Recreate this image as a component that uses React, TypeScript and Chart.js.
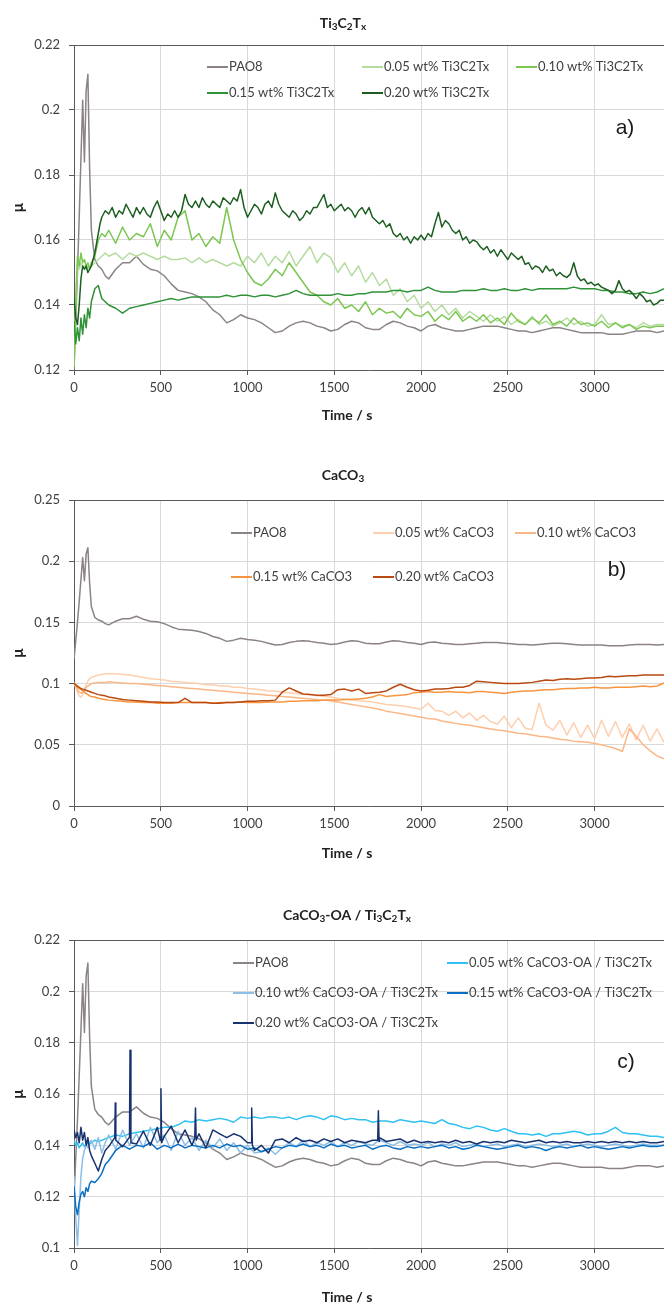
import React, { useEffect, useRef } from 'react';
import { Chart, registerables } from 'chart.js';
Chart.register(...registerables);

// ---------- shared time grid (s) ----------
const TIME = [
  0, 10, 20, 30, 40, 50, 60, 70, 80, 90,
  100, 120, 140, 160, 180, 200, 240, 280, 320, 360,
  400, 440, 480, 520, 560, 600, 640, 680, 720, 760,
  800, 840, 880, 920, 960, 1000, 1040, 1080, 1120, 1160,
  1200, 1240, 1280, 1320, 1360, 1400, 1440, 1480, 1520, 1560,
  1600, 1640, 1680, 1720, 1760, 1800, 1840, 1880, 1920, 1960,
  2000, 2040, 2080, 2120, 2160, 2200, 2240, 2280, 2320, 2360,
  2400, 2440, 2480, 2520, 2560, 2600, 2640, 2680, 2720, 2760,
  2800, 2840, 2880, 2920, 2960, 3000, 3040, 3080, 3120, 3160,
  3200, 3240, 3280, 3320, 3360, 3400,
];

// finer time grid used by the noisiest trace (0.20 wt% Ti3C2Tx)
const TIME_FINE = [
  0, 10, 20, 30, 40, 50, 60, 70, 80, 90, 100, 110, 120, 130, 140, 150, 160, 170, 180,
  200, 220, 240, 260, 280, 300, 320, 340, 360, 380,
  400, 420, 440, 460, 480, 500, 520, 540, 560, 580,
  600, 620, 640, 660, 680, 700, 720, 740, 760, 780,
  800, 820, 840, 860, 880, 900, 920, 940, 960, 980,
  1000, 1020, 1040, 1060, 1080, 1100, 1120, 1140, 1160, 1180,
  1200, 1220, 1240, 1260, 1280, 1300, 1320, 1340, 1360, 1380,
  1400, 1420, 1440, 1460, 1480, 1500, 1520, 1540, 1560, 1580,
  1600, 1620, 1640, 1660, 1680, 1700, 1720, 1740, 1760, 1780,
  1800, 1820, 1840, 1860, 1880, 1900, 1920, 1940, 1960, 1980,
  2000, 2020, 2040, 2060, 2080, 2100, 2120, 2140, 2160, 2180,
  2200, 2220, 2240, 2260, 2280, 2300, 2320, 2340, 2360, 2380,
  2400, 2420, 2440, 2460, 2480, 2500, 2520, 2540, 2560, 2580,
  2600, 2620, 2640, 2660, 2680, 2700, 2720, 2740, 2760, 2780,
  2800, 2820, 2840, 2860, 2880, 2900, 2920, 2940, 2960, 2980,
  3000, 3020, 3040, 3060, 3080, 3100, 3120, 3140, 3160, 3180,
  3200, 3220, 3240, 3260, 3280, 3300, 3320, 3340, 3360, 3380,
  3400,
];

const PAO8 = [
  0.120, 0.135, 0.150, 0.167, 0.185, 0.203, 0.184, 0.206, 0.211, 0.182,
  0.163, 0.154, 0.152, 0.151, 0.149, 0.148, 0.151, 0.153, 0.153, 0.155,
  0.1525, 0.151, 0.1505, 0.149, 0.1465, 0.1445, 0.144, 0.1435, 0.1425, 0.141,
  0.1385, 0.137, 0.1345, 0.1355, 0.137, 0.136, 0.1355, 0.1345, 0.133, 0.1315,
  0.132, 0.1335, 0.1345, 0.135, 0.1345, 0.1335, 0.133, 0.132, 0.1325, 0.134,
  0.135, 0.1345, 0.133, 0.1325, 0.1325, 0.134, 0.135, 0.1345, 0.1335, 0.133,
  0.132, 0.1335, 0.134, 0.133, 0.1325, 0.132, 0.132, 0.1325, 0.133, 0.1335,
  0.1335, 0.1335, 0.133, 0.1325, 0.132, 0.132, 0.1315, 0.132, 0.1325, 0.133,
  0.133, 0.1325, 0.132, 0.1315, 0.1315, 0.1315, 0.1315, 0.131, 0.131, 0.131,
  0.1315, 0.132, 0.132, 0.132, 0.1315, 0.132,
];

// ---------- Ti3C2Tx ----------
const TI_005 = [
  0.121, 0.140, 0.152, 0.151, 0.153, 0.152, 0.152, 0.151, 0.152, 0.151,
  0.152, 0.153, 0.154, 0.155, 0.156, 0.155, 0.156, 0.154, 0.156, 0.155,
  0.156, 0.155, 0.154, 0.155, 0.154, 0.154, 0.1545, 0.153, 0.1545, 0.153,
  0.154, 0.153, 0.152, 0.153, 0.152, 0.155, 0.153, 0.156, 0.152, 0.155,
  0.153, 0.1565, 0.152, 0.155, 0.158, 0.153, 0.156, 0.1545, 0.150, 0.153,
  0.149, 0.152, 0.147, 0.150, 0.146, 0.148, 0.143, 0.145, 0.141, 0.143,
  0.139, 0.141, 0.138, 0.140, 0.137, 0.139, 0.136, 0.138, 0.1365, 0.135,
  0.137, 0.135, 0.1365, 0.134, 0.1355, 0.134, 0.1365, 0.134, 0.135, 0.1335,
  0.1345, 0.136, 0.134, 0.135, 0.1335, 0.134, 0.137, 0.134, 0.1345, 0.1335,
  0.134, 0.133, 0.1345, 0.1335, 0.134, 0.134,
];
const TI_010 = [
  0.121, 0.142, 0.155, 0.152, 0.156, 0.153, 0.154, 0.152, 0.153, 0.151,
  0.153, 0.155, 0.160, 0.162, 0.161, 0.163, 0.159, 0.164, 0.160, 0.162,
  0.161, 0.165, 0.158, 0.163, 0.160, 0.167, 0.169, 0.160, 0.162, 0.158,
  0.161, 0.159, 0.170, 0.160, 0.154, 0.150, 0.147, 0.146, 0.148, 0.151,
  0.149, 0.153, 0.150, 0.147, 0.144, 0.143, 0.141, 0.140, 0.142, 0.139,
  0.140, 0.138, 0.141, 0.137, 0.139, 0.1375, 0.138, 0.136, 0.139, 0.137,
  0.1365, 0.138, 0.135, 0.137, 0.1355, 0.138, 0.135, 0.1365, 0.135, 0.137,
  0.1345, 0.136, 0.134, 0.1375, 0.135, 0.134, 0.136, 0.1345, 0.137, 0.134,
  0.135, 0.1335, 0.136, 0.134, 0.1345, 0.1335, 0.135, 0.133, 0.1345, 0.133,
  0.134, 0.1325, 0.1335, 0.133, 0.1335, 0.1335,
];
const TI_015 = [
  0.135, 0.128, 0.133, 0.129, 0.136, 0.131, 0.137, 0.133, 0.139, 0.136,
  0.141, 0.145, 0.146, 0.142, 0.141, 0.140, 0.139, 0.1375, 0.139, 0.1395,
  0.140, 0.1405, 0.141, 0.1415, 0.142, 0.1415, 0.142, 0.1425, 0.1425, 0.1425,
  0.1425, 0.1425, 0.143, 0.1425, 0.143, 0.143, 0.1425, 0.143, 0.143, 0.1425,
  0.143, 0.1435, 0.1445, 0.1435, 0.143, 0.143, 0.143, 0.143, 0.1435, 0.143,
  0.143, 0.1435, 0.1435, 0.144, 0.144, 0.144, 0.1445, 0.1445, 0.144, 0.1445,
  0.1445, 0.1455, 0.1445, 0.144, 0.144, 0.144, 0.1445, 0.1445, 0.1445, 0.145,
  0.1445, 0.1445, 0.145, 0.1445, 0.1445, 0.145, 0.1445, 0.145, 0.145, 0.145,
  0.145, 0.145, 0.1455, 0.145, 0.145, 0.145, 0.1445, 0.1445, 0.144, 0.144,
  0.1435, 0.1435, 0.144, 0.1435, 0.144, 0.145,
];
// on TIME_FINE
const TI_020 = [
  0.142, 0.136, 0.134, 0.140, 0.148, 0.152, 0.151, 0.152, 0.150, 0.151,
  0.152, 0.154, 0.156, 0.159, 0.162, 0.165, 0.167, 0.168, 0.169,
  0.168, 0.170, 0.167, 0.169, 0.168, 0.171, 0.169, 0.167, 0.170, 0.168,
  0.170, 0.168, 0.167, 0.170, 0.172, 0.169, 0.166, 0.168, 0.167, 0.169,
  0.167, 0.169, 0.174, 0.171, 0.170, 0.172, 0.170, 0.173, 0.171, 0.170,
  0.172, 0.171, 0.170, 0.173, 0.172, 0.171, 0.173, 0.172, 0.1755, 0.170,
  0.167, 0.169, 0.171, 0.170, 0.168, 0.171, 0.172, 0.170, 0.1745, 0.171,
  0.169, 0.168, 0.167, 0.169, 0.168, 0.166, 0.167, 0.169, 0.168, 0.170,
  0.170, 0.172, 0.174, 0.170, 0.171, 0.169, 0.170, 0.171, 0.169, 0.170,
  0.169, 0.167, 0.169, 0.170, 0.168, 0.170, 0.167, 0.166, 0.165, 0.166,
  0.164, 0.165, 0.162, 0.161, 0.162, 0.160, 0.161, 0.159, 0.161, 0.160,
  0.1615, 0.160, 0.162, 0.161, 0.165, 0.1685, 0.164, 0.166, 0.165, 0.163,
  0.162, 0.163, 0.160, 0.161, 0.159, 0.160, 0.1595, 0.158, 0.157, 0.158,
  0.156, 0.157, 0.155, 0.157, 0.1555, 0.154, 0.156, 0.155, 0.154, 0.155,
  0.1525, 0.153, 0.151, 0.152, 0.1515, 0.150, 0.152, 0.1505, 0.151, 0.149,
  0.150, 0.149, 0.1485, 0.1495, 0.153, 0.149, 0.1475, 0.148, 0.1465, 0.147,
  0.146, 0.1465, 0.1455, 0.145, 0.1445, 0.1435, 0.1445, 0.1475, 0.145, 0.144,
  0.1445, 0.1435, 0.142, 0.1435, 0.1425, 0.141, 0.1415, 0.140, 0.1405, 0.1415,
  0.1415,
];

// ---------- CaCO3 ----------
const CA_005 = [
  0.100, 0.097, 0.093, 0.090, 0.089, 0.091, 0.095, 0.099, 0.102, 0.104,
  0.105, 0.106, 0.107, 0.1075, 0.108, 0.108, 0.108, 0.1075, 0.107, 0.106,
  0.105, 0.104, 0.1035, 0.103, 0.102, 0.1015, 0.101, 0.1005, 0.100, 0.099,
  0.099, 0.098, 0.098, 0.097, 0.097, 0.096, 0.0955, 0.095, 0.094, 0.094,
  0.093, 0.0925, 0.092, 0.091, 0.091, 0.090, 0.0895, 0.089, 0.088, 0.0875,
  0.087, 0.086, 0.0855, 0.085, 0.084, 0.083, 0.0825, 0.082, 0.081, 0.080,
  0.079, 0.084, 0.078, 0.0775, 0.074, 0.0775, 0.072, 0.076, 0.070, 0.074,
  0.069, 0.067, 0.0735, 0.064, 0.072, 0.0635, 0.0625, 0.084, 0.066, 0.062,
  0.070, 0.058, 0.068, 0.056, 0.066, 0.055, 0.070, 0.057, 0.069, 0.056,
  0.067, 0.054, 0.066, 0.053, 0.063, 0.052,
];
const CA_010 = [
  0.100, 0.098, 0.095, 0.093, 0.092, 0.093, 0.095, 0.097, 0.098, 0.099,
  0.100, 0.1005, 0.101, 0.101, 0.101, 0.1015, 0.101, 0.1005, 0.100, 0.100,
  0.0995, 0.099, 0.0985, 0.098, 0.0975, 0.097, 0.0965, 0.096, 0.0955, 0.095,
  0.0945, 0.094, 0.0935, 0.093, 0.0925, 0.092, 0.0915, 0.091, 0.0905, 0.090,
  0.0895, 0.089, 0.0885, 0.088, 0.0875, 0.087, 0.0865, 0.086, 0.085, 0.084,
  0.083, 0.082, 0.081, 0.080, 0.079, 0.0775, 0.0765, 0.0755, 0.0745, 0.0735,
  0.0725, 0.0715, 0.071, 0.0695, 0.0685, 0.0675, 0.0665, 0.066, 0.065, 0.064,
  0.063, 0.062, 0.0615, 0.0605, 0.0595, 0.059, 0.058, 0.057, 0.0565, 0.0555,
  0.0545, 0.054, 0.053, 0.0525, 0.052, 0.051, 0.050, 0.0485, 0.047, 0.0445,
  0.063, 0.057, 0.050, 0.045, 0.041, 0.0385,
];
const CA_015 = [
  0.101, 0.099, 0.097, 0.096, 0.095, 0.094, 0.093, 0.092, 0.091, 0.090,
  0.0895, 0.089, 0.088, 0.0875, 0.087, 0.0865, 0.086, 0.0855, 0.085, 0.085,
  0.0845, 0.0845, 0.084, 0.084, 0.084, 0.0845, 0.0845, 0.0845, 0.0845, 0.0845,
  0.084, 0.0845, 0.0845, 0.0845, 0.085, 0.0845, 0.0845, 0.0845, 0.085, 0.085,
  0.085, 0.0855, 0.0855, 0.086, 0.086, 0.086, 0.0865, 0.0865, 0.0865, 0.087,
  0.087, 0.0875, 0.088, 0.089, 0.091, 0.0895, 0.090, 0.0905, 0.091, 0.0925,
  0.093, 0.0935, 0.093, 0.093, 0.0935, 0.093, 0.093, 0.0925, 0.0935, 0.0935,
  0.093, 0.0925, 0.092, 0.093, 0.0935, 0.094, 0.094, 0.0945, 0.095, 0.095,
  0.0955, 0.096, 0.096, 0.0965, 0.0965, 0.097, 0.0965, 0.0965, 0.097, 0.097,
  0.097, 0.0975, 0.098, 0.0975, 0.098, 0.1005,
];
const CA_020 = [
  0.100, 0.099, 0.098, 0.097, 0.096, 0.0955, 0.095, 0.0945, 0.094, 0.0935,
  0.093, 0.092, 0.091, 0.0905, 0.090, 0.089, 0.088, 0.087, 0.0865, 0.086,
  0.0855, 0.085, 0.085, 0.0845, 0.0845, 0.0845, 0.088, 0.0845, 0.0845, 0.0845,
  0.084, 0.084, 0.0845, 0.0845, 0.085, 0.0855, 0.0855, 0.086, 0.086, 0.0865,
  0.093, 0.0965, 0.094, 0.0915, 0.091, 0.0905, 0.0905, 0.091, 0.095, 0.0955,
  0.094, 0.0955, 0.092, 0.0925, 0.093, 0.094, 0.097, 0.0995, 0.097, 0.095,
  0.094, 0.0945, 0.0955, 0.0955, 0.096, 0.097, 0.097, 0.0985, 0.102, 0.1015,
  0.101, 0.1005, 0.100, 0.100, 0.100, 0.1005, 0.101, 0.102, 0.103, 0.1025,
  0.1035, 0.104, 0.1035, 0.104, 0.1045, 0.1045, 0.105, 0.106, 0.1055, 0.106,
  0.1065, 0.1065, 0.107, 0.107, 0.107, 0.107,
];

// ---------- CaCO3-OA / Ti3C2Tx ----------
const OA_005 = [
  0.142, 0.140, 0.141, 0.139, 0.140, 0.141, 0.1395, 0.140, 0.141, 0.1405,
  0.141, 0.142, 0.1415, 0.142, 0.1425, 0.143, 0.144, 0.1435, 0.1445, 0.145,
  0.1455, 0.146, 0.1465, 0.147, 0.147, 0.148, 0.1495, 0.149, 0.150, 0.1495,
  0.150, 0.1505, 0.150, 0.149, 0.151, 0.1505, 0.151, 0.1505, 0.151, 0.151,
  0.1505, 0.151, 0.150, 0.151, 0.1515, 0.151, 0.150, 0.1515, 0.151, 0.150,
  0.1505, 0.150, 0.150, 0.149, 0.1495, 0.1495, 0.149, 0.150, 0.1495, 0.149,
  0.1495, 0.149, 0.1485, 0.150, 0.1485, 0.148, 0.147, 0.1465, 0.1475, 0.147,
  0.146, 0.1455, 0.1465, 0.1455, 0.1445, 0.1445, 0.144, 0.1445, 0.1435, 0.1445,
  0.1445, 0.145, 0.1455, 0.145, 0.144, 0.1445, 0.1445, 0.1455, 0.147, 0.145,
  0.1445, 0.1445, 0.144, 0.1435, 0.1435, 0.143,
];
const OA_010 = [
  0.128, 0.112, 0.101, 0.115, 0.128, 0.135, 0.138, 0.140, 0.139, 0.141,
  0.142, 0.1385, 0.143, 0.137, 0.141, 0.144, 0.1385, 0.146, 0.140, 0.1445,
  0.139, 0.147, 0.141, 0.144, 0.138, 0.1455, 0.140, 0.143, 0.138, 0.142,
  0.139, 0.1425, 0.138, 0.141, 0.137, 0.140, 0.137, 0.1375, 0.139, 0.1365,
  0.139, 0.141, 0.1395, 0.142, 0.1395, 0.141, 0.140, 0.1415, 0.1395, 0.141,
  0.140, 0.1415, 0.1405, 0.140, 0.142, 0.141, 0.140, 0.1415, 0.140, 0.1405,
  0.140, 0.141, 0.1395, 0.1405, 0.140, 0.141, 0.1395, 0.140, 0.1405, 0.1395,
  0.140, 0.1405, 0.1395, 0.140, 0.1405, 0.1395, 0.140, 0.1405, 0.140, 0.1395,
  0.140, 0.1405, 0.1395, 0.140, 0.1405, 0.140, 0.1395, 0.140, 0.1405, 0.140,
  0.1395, 0.140, 0.1405, 0.140, 0.140, 0.140,
];
const OA_015 = [
  0.124, 0.116, 0.113, 0.118, 0.121, 0.122, 0.120, 0.1235, 0.122, 0.125,
  0.126, 0.1255, 0.127, 0.129, 0.1325, 0.134, 0.138, 0.140, 0.1385, 0.140,
  0.1395, 0.141, 0.1385, 0.140, 0.139, 0.1405, 0.139, 0.140, 0.1395, 0.139,
  0.140, 0.139, 0.1405, 0.1395, 0.140, 0.1385, 0.139, 0.1375, 0.1385, 0.1395,
  0.139, 0.140, 0.1395, 0.1405, 0.1395, 0.140, 0.139, 0.1405, 0.1395, 0.140,
  0.139, 0.1395, 0.140, 0.1385, 0.1395, 0.140, 0.139, 0.1385, 0.1395, 0.139,
  0.1395, 0.139, 0.1395, 0.140, 0.139, 0.1395, 0.1385, 0.139, 0.140, 0.1395,
  0.139, 0.1385, 0.139, 0.1395, 0.140, 0.139, 0.1395, 0.139, 0.138, 0.139,
  0.1395, 0.139, 0.1395, 0.140, 0.139, 0.1395, 0.139, 0.1385, 0.139, 0.1395,
  0.139, 0.1395, 0.140, 0.1395, 0.1395, 0.140,
];
const OA_020 = [
  0.146, 0.143, 0.145, 0.141, 0.147, 0.142, 0.145, 0.140, 0.143, 0.138,
  0.136, 0.133, 0.130, 0.1345, 0.138, 0.1395, 0.142, 0.1395, 0.146, 0.1405,
  0.1455, 0.140, 0.147, 0.1435, 0.1475, 0.141, 0.146, 0.140, 0.1445, 0.139,
  0.146, 0.1445, 0.143, 0.1445, 0.1435, 0.141, 0.138, 0.140, 0.137, 0.142,
  0.1425, 0.141, 0.143, 0.1415, 0.142, 0.141, 0.1425, 0.1415, 0.1425, 0.141,
  0.142, 0.1415, 0.141, 0.142, 0.143, 0.1415, 0.142, 0.1425, 0.141, 0.142,
  0.141, 0.1415, 0.141, 0.1415, 0.141, 0.142, 0.141, 0.1415, 0.1405, 0.1415,
  0.141, 0.1415, 0.141, 0.142, 0.1415, 0.141, 0.1415, 0.142, 0.141, 0.1415,
  0.141, 0.1415, 0.141, 0.141, 0.1415, 0.141, 0.1415, 0.141, 0.1415, 0.141,
  0.1415, 0.141, 0.1415, 0.141, 0.141, 0.1415,
];
// narrow spikes of the 0.20 wt% CaCO3-OA / Ti3C2Tx trace
const OA_020_SPIKE_T = [235, 238, 242, 318, 323, 328, 497, 501, 505, 696, 700, 704, 1020, 1024, 1028, 1750, 1754, 1758];
const OA_020_SPIKE_V = [0.143, 0.1565, 0.142, 0.143, 0.177, 0.141, 0.142, 0.162, 0.141, 0.143, 0.1545, 0.142, 0.141, 0.1545, 0.140, 0.142, 0.1535, 0.1415];

// ---------- axes ----------
const X_TICKS = [0, 500, 1000, 1500, 2000, 2500, 3000];
const Y_TICKS_A = [0.12, 0.14, 0.16, 0.18, 0.2, 0.22];
const Y_TICKS_B = [0, 0.05, 0.1, 0.15, 0.2, 0.25];
const Y_TICKS_C = [0.1, 0.12, 0.14, 0.16, 0.18, 0.2, 0.22];

const LABELS_A = ['PAO8', '0.05 wt% Ti3C2Tx', '0.10 wt% Ti3C2Tx', '0.15 wt% Ti3C2Tx', '0.20 wt% Ti3C2Tx'];
const LABELS_B = ['PAO8', '0.05 wt% CaCO3', '0.10 wt% CaCO3', '0.15 wt% CaCO3', '0.20 wt% CaCO3'];
const LABELS_C = ['PAO8', '0.05 wt% CaCO3-OA / Ti3C2Tx', '0.10 wt% CaCO3-OA / Ti3C2Tx', '0.15 wt% CaCO3-OA / Ti3C2Tx', '0.20 wt% CaCO3-OA / Ti3C2Tx'];

const COLORS_A = ['#8b8384', '#b5dca0', '#7cc652', '#2e9237', '#1b5e20'];
const COLORS_B = ['#8b8384', '#fdcfae', '#fbb686', '#f7953f', '#b84a12'];
const COLORS_C = ['#8b8384', '#2ec1f2', '#8dbfe6', '#0a6fc2', '#17326e'];

const FONT = 'Lato, "Open Sans", sans-serif';

function toPoints(vals: number[], times: number[] = TIME, extraT?: number[], extraV?: number[]) {
  const pts: { x: number; y: number }[] = [];
  vals.forEach((v, i) => {
    if (i < times.length) pts.push({ x: times[i], y: v });
  });
  if (extraT && extraV) {
    extraT.forEach((t, i) => pts.push({ x: t, y: extraV[i] }));
    pts.sort((a, b) => a.x - b.x);
  }
  return pts;
}

type Part = [string, boolean];

interface Panel {
  title: Part[];
  tag: string;
  labels: string[];
  colors: string[];
  series: { x: number; y: number }[][];
  yMin: number;
  yMax: number;
  yTicks: number[];
  height: number;
  padTop: number;
  xH: number;
  titleY: number;
  titleX: number;
  xTitleY: number;
  tagPos: [number, number];
  legendPos: [number, number][];
}

const PANELS: Panel[] = [
  {
    title: [['Ti', false], ['3', true], ['C', false], ['2', true], ['T', false], ['x', true]],
    tag: 'a)',
    labels: LABELS_A,
    colors: COLORS_A,
    series: [toPoints(PAO8), toPoints(TI_005), toPoints(TI_010), toPoints(TI_015), toPoints(TI_020, TIME_FINE)],
    yMin: 0.12, yMax: 0.22, yTicks: Y_TICKS_A,
    height: 440, padTop: 45, xH: 70,
    titleY: 23, titleX: 343, xTitleY: 415,
    tagPos: [625, 128],
    legendPos: [[207, 67], [362, 67], [516, 67], [207, 93], [362, 93]],
  },
  {
    title: [['CaCO', false], ['3', true]],
    tag: 'b)',
    labels: LABELS_B,
    colors: COLORS_B,
    series: [toPoints(PAO8), toPoints(CA_005), toPoints(CA_010), toPoints(CA_015), toPoints(CA_020)],
    yMin: 0, yMax: 0.25, yTicks: Y_TICKS_B,
    height: 440, padTop: 60, xH: 74,
    titleY: 35, titleX: 343, xTitleY: 413,
    tagPos: [617, 130],
    legendPos: [[231, 93], [373, 93], [515, 93], [231, 137], [373, 137]],
  },
  {
    title: [['CaCO', false], ['3', true], ['-OA / Ti', false], ['3', true], ['C', false], ['2', true], ['T', false], ['x', true]],
    tag: 'c)',
    labels: LABELS_C,
    colors: COLORS_C,
    series: [toPoints(PAO8), toPoints(OA_005), toPoints(OA_010), toPoints(OA_015), toPoints(OA_020, TIME, OA_020_SPIKE_T, OA_020_SPIKE_V)],
    yMin: 0.1, yMax: 0.22, yTicks: Y_TICKS_C,
    height: 425, padTop: 60, xH: 57,
    titleY: 35, titleX: 347, xTitleY: 417,
    tagPos: [626, 182],
    legendPos: [[233, 83], [447, 83], [233, 113], [447, 113], [233, 143]],
  },
];

function drawRich(ctx: CanvasRenderingContext2D, parts: Part[], cx: number, cy: number, size: number) {
  const big = `bold ${size}px ${FONT}`;
  const small = `bold ${Math.round(size * 0.68)}px ${FONT}`;
  let w = 0;
  parts.forEach(([t, sub]) => {
    ctx.font = sub ? small : big;
    w += ctx.measureText(t).width;
  });
  let x = cx - w / 2;
  ctx.textBaseline = 'middle';
  ctx.textAlign = 'left';
  parts.forEach(([t, sub]) => {
    ctx.font = sub ? small : big;
    ctx.fillText(t, x, sub ? cy + 4 : cy);
    x += ctx.measureText(t).width;
  });
}

function decor(panel: Panel) {
  return {
    id: 'decor',
    afterDraw(chart: any) {
      const ctx: CanvasRenderingContext2D = chart.ctx;
      const a = chart.chartArea;
      ctx.save();
      // top frame line
      ctx.strokeStyle = '#595959';
      ctx.lineWidth = 1;
      ctx.beginPath();
      ctx.moveTo(a.left, a.top + 0.5);
      ctx.lineTo(a.right, a.top + 0.5);
      ctx.stroke();
      // title
      ctx.fillStyle = '#222222';
      drawRich(ctx, panel.title, panel.titleX, panel.titleY, 14);
      // x title
      ctx.font = `bold 14px ${FONT}`;
      ctx.textAlign = 'center';
      ctx.textBaseline = 'middle';
      ctx.fillText('Time / s', 347, panel.xTitleY);
      // y title
      ctx.save();
      ctx.translate(18, (a.top + a.bottom) / 2);
      ctx.rotate(-Math.PI / 2);
      ctx.font = `bold 15px ${FONT}`;
      ctx.fillText('µ', 0, 0);
      ctx.restore();
      // panel tag
      ctx.font = `21px "Liberation Sans", Arial, sans-serif`;
      ctx.fillStyle = '#1a1a1a';
      ctx.textAlign = 'center';
      ctx.fillText(panel.tag, panel.tagPos[0], panel.tagPos[1]);
      // legend
      chart.data.datasets.forEach((ds: any, i: number) => {
        const [lx, ly] = panel.legendPos[i];
        ctx.strokeStyle = ds.borderColor;
        ctx.lineWidth = 2;
        ctx.beginPath();
        ctx.moveTo(lx, ly);
        ctx.lineTo(lx + 21, ly);
        ctx.stroke();
        ctx.font = `13px ${FONT}`;
        ctx.fillStyle = '#404040';
        ctx.textAlign = 'left';
        ctx.textBaseline = 'middle';
        ctx.fillText(ds.label, lx + 22, ly);
      });
      ctx.restore();
    },
  };
}

function makeConfig(panel: Panel): any {
  const gridOpts = { color: '#d9d9d9', tickColor: '#595959', tickLength: 5, lineWidth: 1 };
  const borderOpts = { color: '#595959', width: 1 };
  const tickFont = { family: FONT, size: 13 };
  return {
    type: 'line',
    data: {
      datasets: panel.series.map((d, i) => ({
        label: panel.labels[i],
        data: d,
        borderColor: panel.colors[i],
        backgroundColor: panel.colors[i],
        borderWidth: 1.5,
        pointRadius: 0,
        tension: 0,
        fill: false,
        order: 10 - i,
        borderJoinStyle: 'round',
      })),
    },
    options: {
      animation: false,
      responsive: false,
      layout: { padding: { top: panel.padTop, left: 0, right: 0, bottom: 0 } },
      plugins: { legend: { display: false }, title: { display: false }, tooltip: { enabled: false } },
      scales: {
        x: {
          type: 'linear',
          min: 0,
          max: 3400,
          afterBuildTicks: (s: any) => {
            s.ticks = X_TICKS.map((v) => ({ value: v }));
          },
          afterFit: (s: any) => {
            s.height = panel.xH;
            s.paddingLeft = 0;
            s.paddingRight = 0;
          },
          grid: gridOpts,
          border: borderOpts,
          ticks: {
            padding: 5,
            color: '#404040',
            font: tickFont,
            maxRotation: 0,
            autoSkip: false,
            callback: (v: any) => String(v),
          },
        },
        y: {
          type: 'linear',
          min: panel.yMin,
          max: panel.yMax,
          afterBuildTicks: (s: any) => {
            s.ticks = panel.yTicks.map((v) => ({ value: v }));
          },
          afterFit: (s: any) => {
            s.width = 74;
            s.paddingTop = 0;
            s.paddingBottom = 0;
          },
          grid: gridOpts,
          border: borderOpts,
          ticks: {
            padding: 9,
            color: '#404040',
            font: tickFont,
            autoSkip: false,
            callback: (v: any) => String(parseFloat(Number(v).toFixed(3))),
          },
        },
      },
    },
    plugins: [decor(panel)],
  };
}

function PanelChart({ panel }: { panel: Panel }) {
  const ref = useRef<HTMLCanvasElement | null>(null);
  useEffect(() => {
    if (!ref.current) return;
    const chart = new Chart(ref.current, makeConfig(panel));
    return () => chart.destroy();
  }, [panel]);
  return <canvas ref={ref} width={664} height={panel.height} style={{ display: 'block', width: 664, height: panel.height }} />;
}

export default function App() {
  return (
    <div style={{ position: 'absolute', left: 0, top: 0, width: 664, height: 1305, background: '#ffffff', overflow: 'hidden' }}>
      {PANELS.map((p, i) => (
        <PanelChart key={i} panel={p} />
      ))}
    </div>
  );
}
